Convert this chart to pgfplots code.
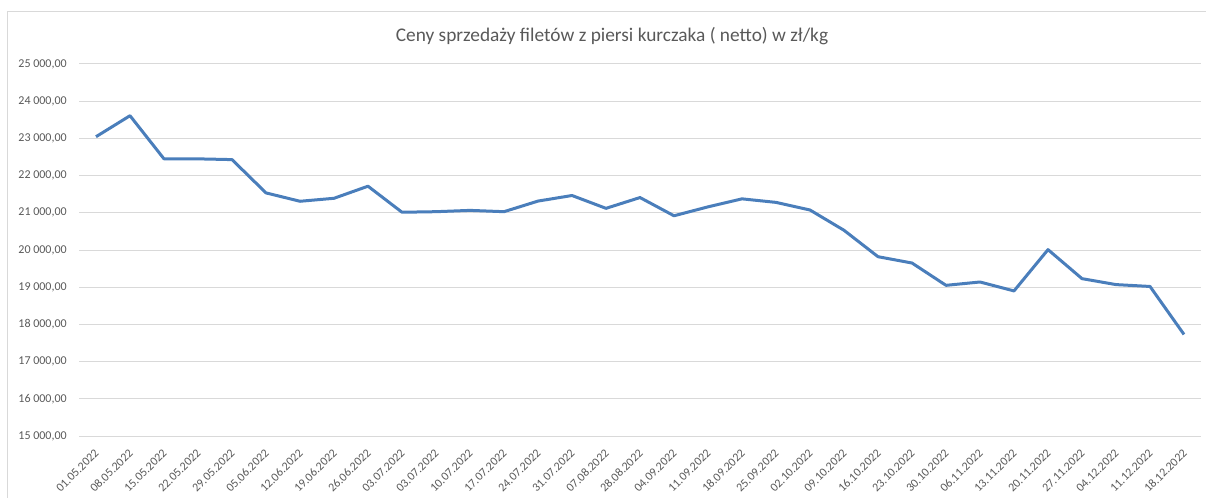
\documentclass[border=0pt]{standalone}
\usepackage{pgfplots}
\pgfplotsset{compat=1.18}
\usepackage{fontspec}
\setmainfont{Carlito}
\definecolor{txt}{HTML}{595959}
\definecolor{gridc}{HTML}{D9D9D9}
\definecolor{linec}{HTML}{4A7EBB}
\pgfplotstableread{
x y
0 23045
1 23610
2 22450
3 22450
4 22430
5 21535
6 21310
7 21390
8 21715
9 21015
10 21030
11 21065
12 21030
13 21315
14 21465
15 21120
16 21410
17 20920
18 21160
19 21375
20 21280
21 21075
22 20530
23 19820
24 19650
25 19050
26 19140
27 18900
28 20010
29 19230
30 19070
31 19020
32 17730
}\pricedata
\begin{document}
\begin{tikzpicture}[x=0.75pt,y=0.75pt]
\path[use as bounding box] (0,0) rectangle (1206,497);
\draw[gridc, line width=0.75pt] (7.5,-20) rectangle (1230,485.5);
\node[text=txt, font=\fontsize{14.5}{17}\selectfont] at (612,461) {Ceny sprzedaży filetów z piersi kurczaka ( netto) w zł/kg};
\begin{axis}[
  at={(59.25pt,45.75pt)}, anchor=south west,
  scale only axis, width=841.5pt, height=279pt,
  xmin=-0.5, xmax=32.5, ymin=15000, ymax=25000,
  scaled y ticks=false,
  ytick={15000,16000,...,25000},
  yticklabels={{15 000,00},{16 000,00},{17 000,00},{18 000,00},{19 000,00},{20 000,00},{21 000,00},{22 000,00},{23 000,00},{24 000,00},{25 000,00}},
  xtick={0,...,32},
  xticklabels={01.05.2022,08.05.2022,15.05.2022,22.05.2022,29.05.2022,05.06.2022,12.06.2022,19.06.2022,26.06.2022,03.07.2022,03.07.2022,10.07.2022,17.07.2022,24.07.2022,31.07.2022,07.08.2022,28.08.2022,04.09.2022,11.09.2022,18.09.2022,25.09.2022,02.10.2022,09.10.2022,16.10.2022,23.10.2022,30.10.2022,06.11.2022,13.11.2022,20.11.2022,27.11.2022,04.12.2022,11.12.2022,18.12.2022},
  ymajorgrids, grid style={gridc, line width=0.75pt},
  axis line style={draw=none}, major tick length=0pt,
  tick label style={text=txt, font=\fontsize{9}{11}\selectfont},
  yticklabel style={anchor=east, inner sep=0pt, xshift=-9pt},
  xticklabel shift=12pt,
  xticklabel style={rotate=45, anchor=east, inner sep=0pt, xshift=1pt},
  clip=false,
]
\addplot[linec, line width=2.25pt, line join=round, mark=none] table[x=x,y=y] {\pricedata};
\end{axis}
\end{tikzpicture}
\end{document}
